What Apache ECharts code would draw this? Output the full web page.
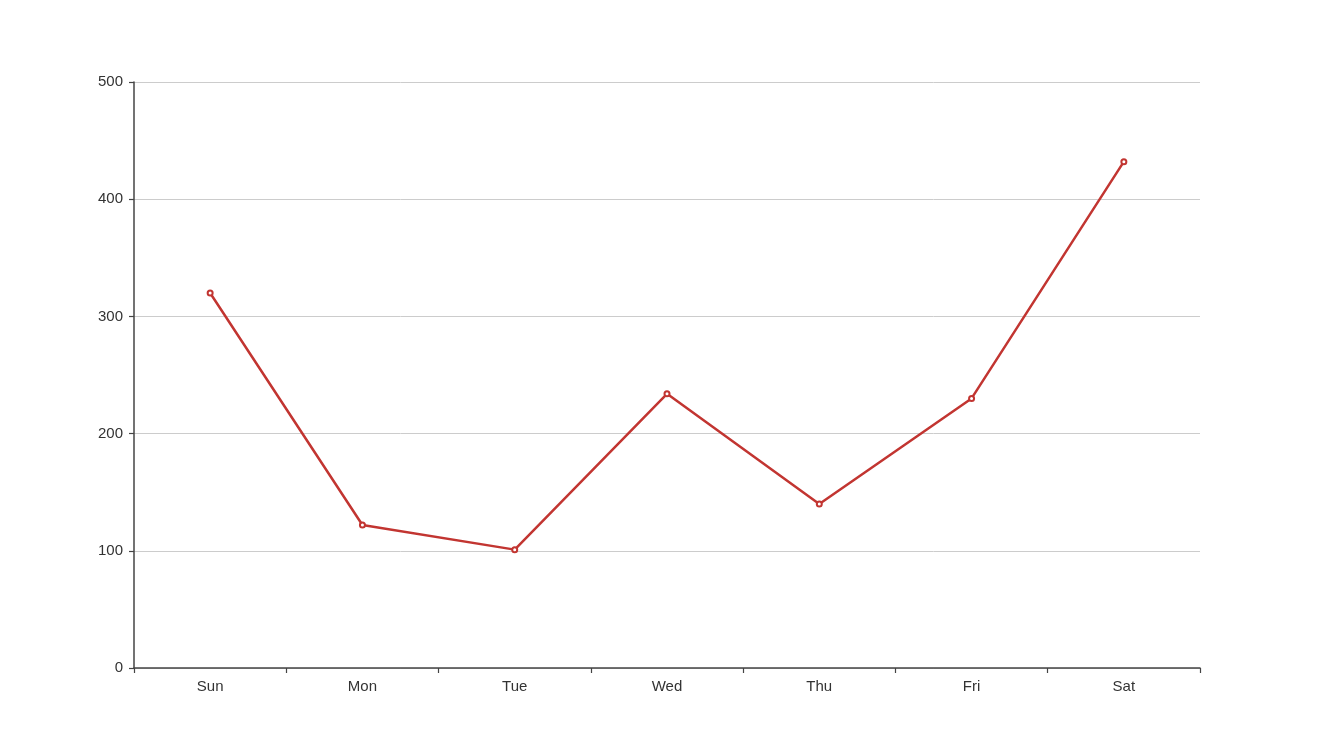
<!DOCTYPE html>
<html><head><meta charset="utf-8">
<script src="https://cdn.jsdelivr.net/npm/echarts@6/dist/echarts.min.js"></script>
<style>html,body{margin:0;padding:0;background:#fff}#c{width:1334px;height:750px}</style>
</head><body><div id="c"></div>
<script>
const categories = ['Sun','Mon','Tue','Wed','Thu','Fri','Sat'];
const values = [320, 122, 101, 234, 140, 230, 432];
const yTicks = [0, 100, 200, 300, 400, 500];

const FONT = '"Liberation Sans", Arial, Helvetica, sans-serif';
const chart = echarts.init(document.getElementById('c'));
chart.setOption({
  animation: false,
  backgroundColor: '#fff',
  grid: {left: 134, right: 134, top: 82, bottom: 82, containLabel: false},
  xAxis: {
    type: 'category',
    data: categories,
    boundaryGap: true,
    axisLine: {show: true, lineStyle: {color: '#444', width: 1.5}},
    axisTick: {show: true, length: 5, lineStyle: {color: '#444', width: 1.2}},
    axisLabel: {color: '#333', fontSize: 15, fontFamily: FONT, margin: 11},
    splitLine: {show: false}
  },
  yAxis: {
    type: 'value',
    min: yTicks[0],
    max: yTicks[yTicks.length - 1],
    interval: 100,
    axisLine: {show: true, lineStyle: {color: '#444', width: 1.5}},
    axisTick: {show: true, length: 5, lineStyle: {color: '#444', width: 1.2}},
    axisLabel: {color: '#333', fontSize: 15, fontFamily: FONT, margin: 11},
    splitLine: {show: true, lineStyle: {color: '#ccc', width: 1}}
  },
  series: [{
    type: 'line',
    data: values,
    symbol: 'emptyCircle',
    symbolSize: 5,
    showSymbol: true,
    lineStyle: {color: '#c23531', width: 2.5},
    itemStyle: {color: '#c23531', borderWidth: 1}
  }]
});
</script></body></html>
